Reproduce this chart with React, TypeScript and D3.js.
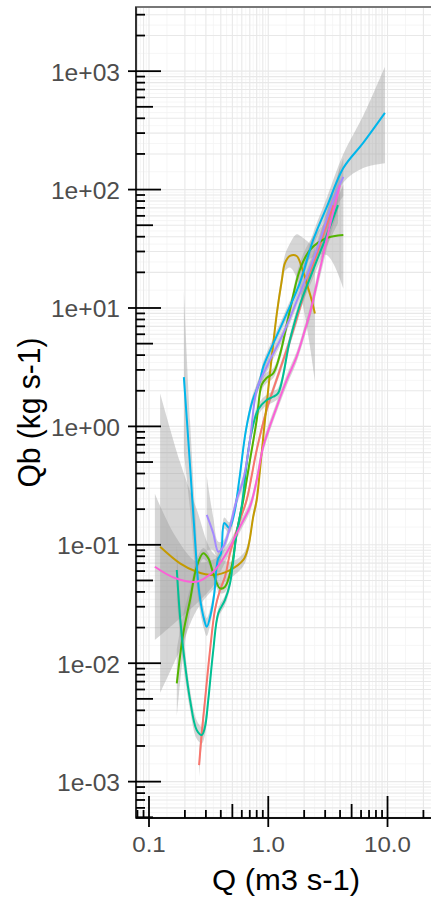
import React from 'react';
import * as d3 from 'd3';

// ---------- data ----------
// each row: [Q (m3 s-1), fitted Qb (kg s-1), lower CI, upper CI]
const series1: number[][] = [
  [0.263, 0.00138, 0.0011, 0.0018], [0.277, 0.00256, 0.0021, 0.0031], [0.295, 0.00489, 0.0043, 0.0055],
  [0.325, 0.0129, 0.0118, 0.0141], [0.357, 0.0281, 0.026, 0.03], [0.394, 0.0415, 0.039, 0.044],
  [0.434, 0.0538, 0.051, 0.057], [0.478, 0.0848, 0.08, 0.09], [0.579, 0.162, 0.152, 0.173],
  [0.659, 0.239, 0.224, 0.255], [0.8, 0.632, 0.59, 0.68], [0.97, 1.38, 1.28, 1.49],
  [1.25, 2.99, 2.75, 3.25], [1.62, 6.5, 5.9, 7.2], [2.1, 15.7, 14, 17.6],
  [2.71, 34, 29, 40], [3.51, 74, 55, 100],
];
const series2: number[][] = [
  [0.124, 0.0964, 0.0056, 1.9], [0.182, 0.0698, 0.013, 0.5], [0.251, 0.0593, 0.028, 0.2],
  [0.346, 0.0556, 0.042, 0.085], [0.478, 0.0612, 0.052, 0.072], [0.617, 0.0745, 0.066, 0.084],
  [0.68, 0.0964, 0.087, 0.107], [0.748, 0.173, 0.157, 0.19], [0.8, 0.239, 0.215, 0.265],
  [0.852, 0.428, 0.39, 0.47], [0.92, 0.93, 0.84, 1.03], [0.994, 1.95, 1.76, 2.16],
  [1.074, 4.0, 3.6, 4.45], [1.18, 9.0, 8.0, 10.1], [1.3, 17.2, 15, 19.8],
  [1.38, 23.9, 20.5, 28], [1.52, 27.5, 22, 35], [1.73, 27.5, 18, 42],
  [1.9, 22.4, 12, 40], [2.1, 16.2, 7, 37], [2.31, 11.7, 3.8, 34], [2.46, 9.0, 2.4, 33],
];
const series3: number[][] = [
  [0.171, 0.00676, 0.0035, 0.013], [0.194, 0.018, 0.012, 0.026], [0.221, 0.0342, 0.027, 0.043],
  [0.251, 0.0653, 0.057, 0.075], [0.285, 0.0848, 0.076, 0.094], [0.314, 0.0769, 0.07, 0.085],
  [0.346, 0.0574, 0.052, 0.063], [0.394, 0.0429, 0.039, 0.047], [0.434, 0.0443, 0.04, 0.049],
  [0.493, 0.0653, 0.059, 0.072], [0.543, 0.125, 0.113, 0.138], [0.617, 0.239, 0.215, 0.265],
  [0.703, 0.52, 0.47, 0.57], [0.8, 1.13, 1.02, 1.25], [0.88, 2.24, 2.02, 2.48],
  [0.97, 2.57, 2.32, 2.85], [1.1, 2.81, 2.55, 3.1], [1.25, 4.0, 3.6, 4.4],
  [1.52, 9.6, 8.6, 10.7], [1.84, 21, 18.5, 24], [2.24, 31, 26, 37],
  [3.09, 39, 28, 55], [4.26, 41.4, 14.6, 110],
];
const series4: number[][] = [
  [0.171, 0.0612, 0.035, 0.1], [0.182, 0.0247, 0.017, 0.036], [0.194, 0.0129, 0.0095, 0.0175],
  [0.221, 0.00489, 0.004, 0.006], [0.251, 0.00273, 0.0023, 0.0033], [0.277, 0.00248, 0.0021, 0.0029],
  [0.295, 0.00291, 0.0025, 0.0034], [0.314, 0.00489, 0.0043, 0.0056], [0.346, 0.0129, 0.0116, 0.0143],
  [0.381, 0.0264, 0.024, 0.029], [0.434, 0.0342, 0.031, 0.0375], [0.478, 0.0473, 0.043, 0.052],
  [0.543, 0.125, 0.113, 0.138], [0.598, 0.21, 0.19, 0.232], [0.703, 0.768, 0.69, 0.85],
  [0.82, 1.38, 1.24, 1.53], [0.97, 1.67, 1.5, 1.85], [1.1, 1.78, 1.6, 1.98],
  [1.21, 1.91, 1.72, 2.12], [1.52, 5.37, 4.8, 6.0], [1.84, 10.6, 9.4, 12],
  [2.38, 21, 18, 24.5], [3.09, 41, 33, 52], [3.84, 74, 52, 105],
];
const series5: number[][] = [
  [0.196, 2.61, 0.6, 14], [0.221, 0.463, 0.2, 1.1], [0.248, 0.082, 0.05, 0.14],
  [0.264, 0.039, 0.03, 0.05], [0.291, 0.023, 0.019, 0.028], [0.305, 0.0203, 0.017, 0.024],
  [0.331, 0.0265, 0.023, 0.031], [0.353, 0.039, 0.034, 0.045], [0.377, 0.0745, 0.066, 0.084],
  [0.402, 0.085, 0.076, 0.095], [0.428, 0.153, 0.137, 0.17], [0.471, 0.139, 0.125, 0.155],
  [0.519, 0.186, 0.167, 0.207], [0.571, 0.352, 0.316, 0.39], [0.65, 0.93, 0.84, 1.03],
  [0.74, 1.67, 1.51, 1.85], [0.841, 2.33, 2.1, 2.58], [0.908, 3.19, 2.88, 3.53],
  [1.1, 5.0, 4.5, 5.55], [1.43, 9.0, 8.1, 10], [1.84, 16.3, 14.6, 18.2],
  [2.38, 37.5, 33, 43], [3.09, 71, 60, 85], [4.26, 152, 115, 200],
  [6.25, 248, 152, 420], [9.51, 444, 167, 1092],
];
const series6: number[][] = [
  [0.305, 0.179, 0.09, 0.38], [0.346, 0.125, 0.09, 0.17], [0.381, 0.0875, 0.072, 0.106],
  [0.42, 0.0964, 0.085, 0.109], [0.462, 0.125, 0.112, 0.14], [0.543, 0.239, 0.215, 0.265],
  [0.617, 0.352, 0.316, 0.39], [0.703, 0.768, 0.69, 0.85], [0.8, 2.03, 1.83, 2.25],
  [0.97, 3.19, 2.88, 3.53], [1.34, 6.12, 5.5, 6.8], [1.84, 13.3, 11.9, 14.9],
  [2.55, 30.9, 27, 35.5], [3.51, 81.7, 66, 101], [4.26, 128, 88, 185],
];
const series7: number[][] = [
  [0.112, 0.0653, 0.0157, 0.27], [0.165, 0.0524, 0.022, 0.12], [0.251, 0.0488, 0.032, 0.072],
  [0.346, 0.0593, 0.045, 0.075], [0.394, 0.0698, 0.058, 0.083], [0.478, 0.0964, 0.086, 0.108],
  [0.579, 0.142, 0.128, 0.157], [0.703, 0.21, 0.19, 0.232], [0.8, 0.352, 0.317, 0.39],
  [0.908, 0.675, 0.61, 0.75], [1.18, 1.47, 1.33, 1.63], [1.43, 2.47, 2.22, 2.75],
  [1.73, 3.88, 3.5, 4.3], [2.03, 6.52, 5.85, 7.3], [2.24, 9.1, 8.1, 10.2],
  [2.71, 21, 18, 24.5], [3.29, 50, 40, 62], [3.99, 109, 75, 160],
];

const xBreaks = [0.1, 1, 10];
const xBreakLabels = ['0.1', '1.0', '10.0'];
const yBreaks = [1e-3, 1e-2, 1e-1, 1, 10, 100, 1000];
const yBreakLabels = ['1e-03', '1e-02', '1e-01', '1e+00', '1e+01', '1e+02', '1e+03'];
const xDomain = [0.0778, 25.5];
const yDomain = [4.93e-4, 3483];
const xTitle = 'Q (m3 s-1)';
const yTitle = 'Qb (kg s-1)';

// ---------- styles ----------
const allSeries = [series1, series2, series3, series4, series5, series6, series7];
const colors = ['#F8766D', '#C49A00', '#53B400', '#00C094', '#00B6EB', '#A58AFF', '#FB61D7'];
const W = 431;
const H = 899;
const P = { left: 136, right: 436, top: 7, bottom: 818 };
const FONT = "'Liberation Sans', Arial, Helvetica, sans-serif";
const SX = 1.07;

function logPositions(domain: number[]) {
  const out: { v: number; k: number }[] = [];
  for (let n = -5; n <= 5; n++) {
    for (let k = 1; k <= 9; k++) {
      const v = k * Math.pow(10, n);
      if (v >= domain[0] && v <= domain[1]) out.push({ v, k });
    }
  }
  return out;
}

export default function App() {
  const x = d3.scaleLog().domain(xDomain).range([P.left, P.right]);
  const y = d3.scaleLog().domain(yDomain).range([P.bottom, P.top]);

  const xPos = logPositions(xDomain);
  const yPos = logPositions(yDomain);
  const xMinor = xPos.slice(1).map((d, i) => Math.sqrt(d.v * xPos[i].v));
  const yMinor = yPos.slice(1).map((d, i) => Math.sqrt(d.v * yPos[i].v));

  const curve = d3.curveCatmullRom.alpha(0.5);
  const area = d3
    .area<number[]>()
    .x((d) => x(d[0]))
    .y0((d) => y(d[2]))
    .y1((d) => y(d[3]))
    .curve(curve);
  const line = d3
    .line<number[]>()
    .x((d) => x(d[0]))
    .y((d) => y(d[1]))
    .curve(curve);

  const yTickLen = (k: number) => (k === 1 ? 25 : k === 5 ? 17 : 9);
  const xTickLen = (k: number) => (k === 1 ? 22 : k === 5 ? 14 : 8);

  return (
    <svg
      width={W}
      height={H}
      style={{ position: 'absolute', left: 0, top: 0, background: '#fff' }}
      fontFamily={FONT}
    >
      <defs>
        <clipPath id="panel">
          <rect x={P.left} y={P.top} width={P.right - P.left} height={P.bottom - P.top} />
        </clipPath>
      </defs>
      <rect x={0} y={0} width={W} height={H} fill="#fff" />
      <g clipPath="url(#panel)">
        {xMinor.map((v, i) => (
          <line key={'xm' + i} x1={x(v)} x2={x(v)} y1={P.top} y2={P.bottom} stroke="#f4f4f4" strokeWidth={0.8} />
        ))}
        {yMinor.map((v, i) => (
          <line key={'ym' + i} y1={y(v)} y2={y(v)} x1={P.left} x2={P.right} stroke="#f4f4f4" strokeWidth={0.8} />
        ))}
        {xPos.map((d, i) => (
          <line key={'xg' + i} x1={x(d.v)} x2={x(d.v)} y1={P.top} y2={P.bottom} stroke="#e8e8e8" strokeWidth={1.1} />
        ))}
        {yPos.map((d, i) => (
          <line key={'yg' + i} y1={y(d.v)} y2={y(d.v)} x1={P.left} x2={P.right} stroke="#e8e8e8" strokeWidth={1.1} />
        ))}
        {allSeries.map((s, i) => (
          <path key={'r' + i} d={area(s) || ''} fill="#999999" fillOpacity={0.4} stroke="none" />
        ))}
        {allSeries.map((s, i) => (
          <path key={'l' + i} d={line(s) || ''} fill="none" stroke={colors[i]} strokeWidth={2} />
        ))}
      </g>
      {/* panel border */}
      <rect x={P.left} y={P.top} width={P.right - P.left} height={P.bottom - P.top} fill="none" stroke="#777" strokeWidth={2} />
      <line x1={P.left} x2={P.left} y1={P.top} y2={P.bottom} stroke="#333" strokeWidth={2} />
      <line x1={P.left} x2={P.right} y1={P.bottom} y2={P.bottom} stroke="#111" strokeWidth={2} />
      {/* log ticks */}
      {yPos.map((d, i) => (
        <line key={'ylt' + i} x1={P.left} x2={P.left + yTickLen(d.k)} y1={y(d.v)} y2={y(d.v)} stroke="#000" strokeWidth={1.8} />
      ))}
      {xPos.map((d, i) => (
        <line key={'xlt' + i} y1={P.bottom} y2={P.bottom - xTickLen(d.k)} x1={x(d.v)} x2={x(d.v)} stroke="#000" strokeWidth={1.8} />
      ))}
      {/* axis ticks */}
      {yBreaks.map((v, i) => (
        <line key={'yt' + i} x1={P.left - 8} x2={P.left} y1={y(v)} y2={y(v)} stroke="#000" strokeWidth={1.8} />
      ))}
      {xBreaks.map((v, i) => (
        <line key={'xt' + i} y1={P.bottom} y2={P.bottom + 9} x1={x(v)} x2={x(v)} stroke="#000" strokeWidth={1.8} />
      ))}
      {/* tick labels */}
      {yBreaks.map((v, i) => (
        <g key={'yl' + i} transform={`translate(120,${y(v) + 9.5}) scale(${SX},1)`}>
          <text textAnchor="end" fontSize={23} fill="#4d4d4d">
            {yBreakLabels[i]}
          </text>
        </g>
      ))}
      {xBreaks.map((v, i) => (
        <g key={'xl' + i} transform={`translate(${x(v)},852) scale(${SX},1)`}>
          <text textAnchor="middle" fontSize={22.5} fill="#4d4d4d">
            {xBreakLabels[i]}
          </text>
        </g>
      ))}
      {/* axis titles */}
      <g transform={`translate(${(P.left + P.right) / 2},890) scale(${SX},1)`}>
        <text textAnchor="middle" fontSize={29} fill="#000">
          {xTitle}
        </text>
      </g>
      <g transform={`translate(40,${(P.top + P.bottom) / 2}) scale(${SX},1) rotate(-90)`}>
        <text textAnchor="middle" fontSize={30} fill="#000">
          {yTitle}
        </text>
      </g>
    </svg>
  );
}
